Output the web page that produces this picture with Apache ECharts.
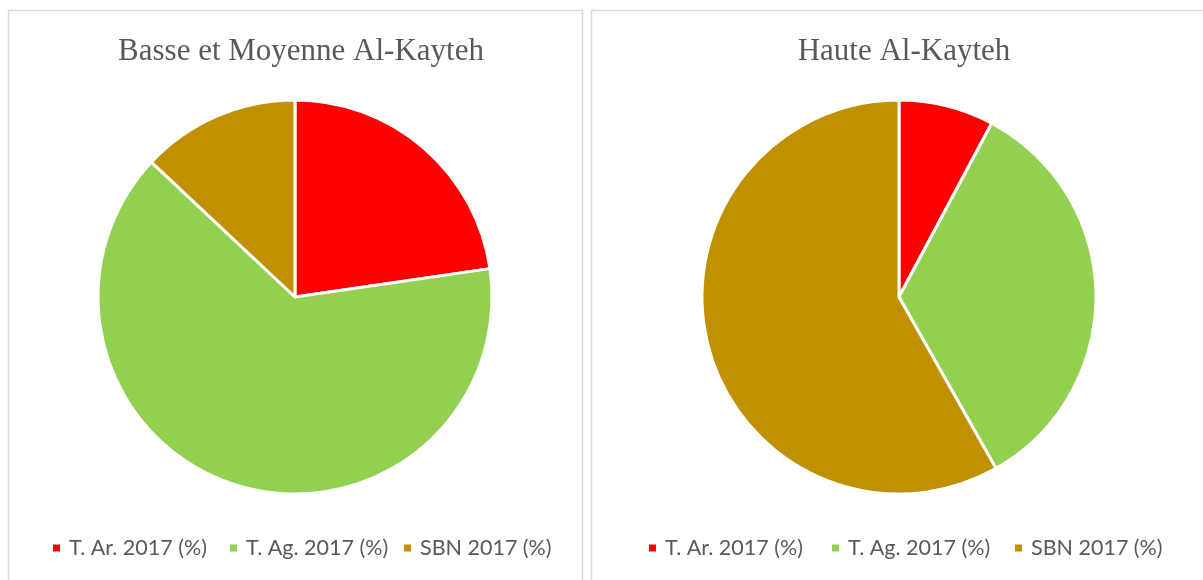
<!DOCTYPE html>
<html>
<head>
<meta charset="utf-8">
<script src="https://cdn.jsdelivr.net/npm/echarts@6/dist/echarts.min.js"></script>
<style>
  html, body { margin: 0; padding: 0; background: #fff; }
  #chart { width: 1203px; height: 580px; }
</style>
</head>
<body>
<div id="chart"></div>
<script>
// Land-use shares (%) for the two parts of the Al-Kayteh area, 2017
const categories = ['T. Ar. 2017 (%)', 'T. Ag. 2017 (%)', 'SBN 2017 (%)'];
const panelTitles = ['Basse et Moyenne Al-Kayteh', 'Haute Al-Kayteh'];
const basseMoyenneValues = [22.7, 64.3, 13.0];
const hauteValues = [7.8, 34.0, 58.2];
const sliceColors = ['#FF0000', '#92D050', '#BF9000'];

const textColor = '#595959';
const frameColor = '#D9D9D9';

function toData(values) {
  return categories.map((name, i) => ({ name, value: values[i] }));
}

const pieBase = {
  type: 'pie',
  radius: 197,
  startAngle: 90,
  clockwise: true,
  label: { show: false },
  labelLine: { show: false },
  emphasis: { disabled: true },
  itemStyle: { borderColor: '#ffffff', borderWidth: 3 },
  animation: false
};

// One legend entry per block so each panel's key sits under its own pie
const legendLeftPanel = [51, 228, 402];
const legendRightPanel = [647, 830, 1013];

function legendItem(name, left) {
  return {
    data: [name], left: left, top: 537, padding: 0, icon: 'rect',
    itemWidth: 9, itemHeight: 9, selectedMode: false,
    textStyle: { fontFamily: 'Lato', fontSize: 21.5, color: textColor, padding: [0, 0, 0, 3] }
  };
}

const legends = []
  .concat(categories.map((c, i) => legendItem(c, legendLeftPanel[i])))
  .concat(categories.map((c, i) => legendItem(c, legendRightPanel[i])));

const titleStyle = { fontFamily: 'Liberation Serif', fontWeight: 'normal', fontSize: 31, color: textColor };

const chart = echarts.init(document.getElementById('chart'), null, { renderer: 'canvas' });

chart.setOption({
  backgroundColor: '#ffffff',
  color: sliceColors,
  graphic: [
    { type: 'rect', shape: { x: 8.5, y: 10.5, width: 574, height: 600 },
      style: { fill: 'none', stroke: frameColor, lineWidth: 1.5 }, z: -10 },
    { type: 'rect', shape: { x: 591.5, y: 10.5, width: 640, height: 600 },
      style: { fill: 'none', stroke: frameColor, lineWidth: 1.5 }, z: -10 }
  ],
  title: [
    { text: panelTitles[0], left: 296, top: 31, textAlign: 'center', textStyle: titleStyle },
    { text: panelTitles[1], left: 899, top: 31, textAlign: 'center', textStyle: titleStyle }
  ],
  legend: legends,
  series: [
    Object.assign({}, pieBase, { name: panelTitles[0], center: [295, 297], data: toData(basseMoyenneValues) }),
    Object.assign({}, pieBase, { name: panelTitles[1], center: [899, 297], data: toData(hauteValues) })
  ]
});
</script>
</body>
</html>
